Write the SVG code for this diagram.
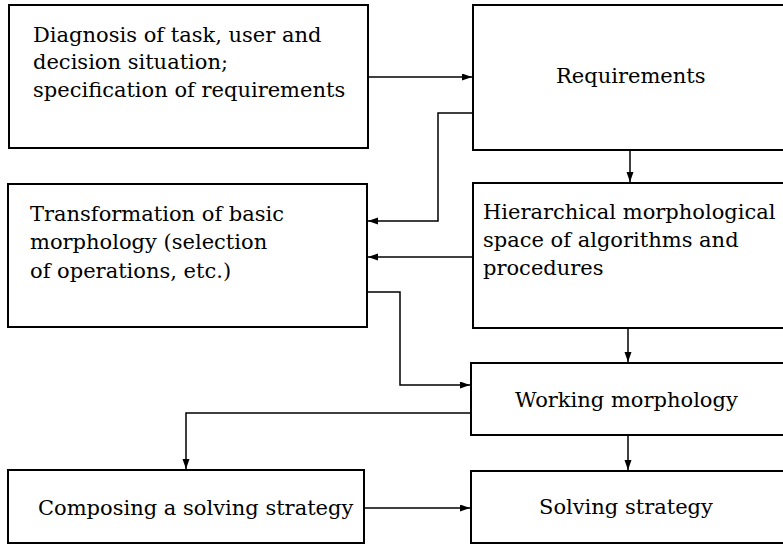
<svg xmlns="http://www.w3.org/2000/svg" width="783" height="544" viewBox="0 0 783 544">
<style>
.box{fill:#fff;stroke:#000;stroke-width:2}
.t{font-family:"DejaVu Serif","Liberation Serif",serif;font-size:21px;fill:#000}
.c{fill:none;stroke:#000;stroke-width:1.5;marker-end:url(#ah)}
</style>
<defs>
<marker id="ah" markerUnits="userSpaceOnUse" markerWidth="11" markerHeight="8" refX="10" refY="3.5" orient="auto">
<path d="M0,0 L10,3.5 L0,7 z" fill="#000"/>
</marker>
</defs>
<rect width="783" height="544" fill="#fff"/>
<g id="diagnosis">
<rect class="box" x="9" y="5" width="359" height="143"/>
<text class="t" x="33" y="42">Diagnosis of task, user and</text>
<text class="t" x="33" y="69">decision situation;</text>
<text class="t" x="33" y="97">specification of requirements</text>
</g>
<g id="requirements">
<rect class="box" x="473" y="5" width="330" height="145"/>
<text class="t" x="556" y="83">Requirements</text>
</g>
<g id="transformation">
<rect class="box" x="8" y="184" width="359" height="143"/>
<text class="t" x="30" y="221">Transformation of basic</text>
<text class="t" x="30" y="249">morphology (selection</text>
<text class="t" x="30" y="278">of operations, etc.)</text>
</g>
<g id="hierarchical">
<rect class="box" x="473" y="183" width="330" height="145"/>
<text class="t" x="483" y="219">Hierarchical morphological</text>
<text class="t" x="483" y="247">space of algorithms and</text>
<text class="t" x="483" y="275">procedures</text>
</g>
<g id="working">
<rect class="box" x="471" y="363" width="330" height="72"/>
<text class="t" x="515" y="407">Working morphology</text>
</g>
<g id="composing">
<rect class="box" x="8" y="470" width="356" height="73"/>
<text class="t" x="38" y="515">Composing a solving strategy</text>
</g>
<g id="solving">
<rect class="box" x="471" y="471" width="330" height="72"/>
<text class="t" x="539" y="514">Solving strategy</text>
</g>
<g id="connectors">
<path class="c" d="M368,77 H472"/>
<path class="c" d="M630,150 V182"/>
<path class="c" d="M473,113 H438 V221 H368"/>
<path class="c" d="M473,257 H368"/>
<path class="c" d="M367,292 H400 V385 H470"/>
<path class="c" d="M628,328 V362"/>
<path class="c" d="M471,413 H186 V469"/>
<path class="c" d="M628,435 V470"/>
<path class="c" d="M364,508 H470"/>
</g>
</svg>
